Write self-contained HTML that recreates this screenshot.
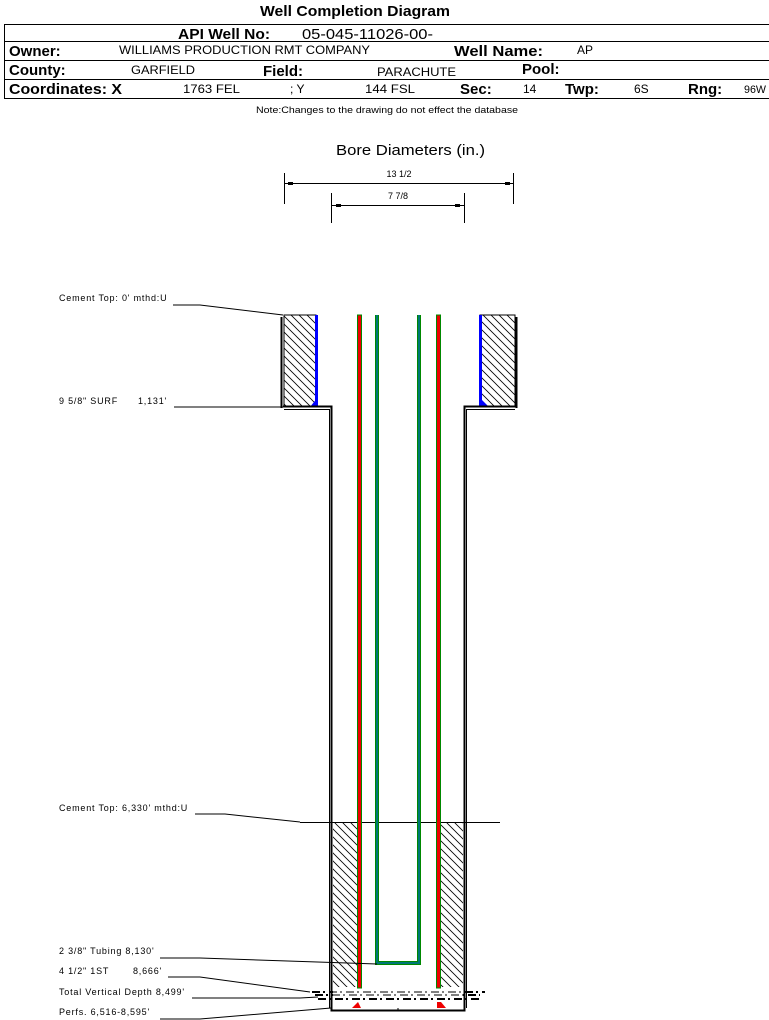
<!DOCTYPE html>
<html><head><meta charset="utf-8"><style>
html,body{margin:0;padding:0;background:#fff;}
svg{display:block;}
text{font-family:"Liberation Sans",sans-serif;}
</style></head><body>
<svg width="769" height="1020" viewBox="0 0 769 1020" xmlns="http://www.w3.org/2000/svg">
<defs>
<pattern id="h" width="8" height="8" patternUnits="userSpaceOnUse">
<path d="M-2,-2 L10,10 M-2,6 L2,10 M6,-2 L10,2" stroke="#000" stroke-width="0.8"/>
</pattern>
</defs>
<text x="355" y="16" font-size="15" font-weight="bold" text-anchor="middle" textLength="190" lengthAdjust="spacingAndGlyphs">Well Completion Diagram</text>
<rect x="4.5" y="24.5" width="765" height="74" fill="none" stroke="#000"/>
<line x1="4" y1="41.5" x2="769" y2="41.5" stroke="#000"/>
<line x1="4" y1="60.5" x2="769" y2="60.5" stroke="#000"/>
<line x1="4" y1="79.5" x2="769" y2="79.5" stroke="#000"/>
<g font-size="15">
<text x="178" y="39" font-weight="bold" textLength="92" lengthAdjust="spacingAndGlyphs">API Well No:</text>
<text x="302" y="39" textLength="131" lengthAdjust="spacingAndGlyphs">05-045-11026-00-</text>
<text x="9" y="56" font-weight="bold">Owner:</text>
<text x="454" y="56" font-weight="bold" textLength="89" lengthAdjust="spacingAndGlyphs">Well Name:</text>
<text x="9" y="75" font-weight="bold">County:</text>
<text x="263" y="76" font-weight="bold">Field:</text>
<text x="522" y="74" font-weight="bold">Pool:</text>
<text x="9" y="94" font-weight="bold" textLength="113" lengthAdjust="spacingAndGlyphs">Coordinates: X</text>
<text x="460" y="94" font-weight="bold">Sec:</text>
<text x="565" y="94" font-weight="bold">Twp:</text>
<text x="688" y="94" font-weight="bold">Rng:</text>
</g>
<g font-size="12">
<text x="119" y="54" textLength="251" lengthAdjust="spacingAndGlyphs">WILLIAMS PRODUCTION RMT COMPANY</text>
<text x="577" y="54">AP</text>
<text x="131" y="74" textLength="64" lengthAdjust="spacingAndGlyphs">GARFIELD</text>
<text x="377" y="76" textLength="79" lengthAdjust="spacingAndGlyphs">PARACHUTE</text>
<text x="183" y="93" textLength="57" lengthAdjust="spacingAndGlyphs">1763 FEL</text>
<text x="290" y="93">; Y</text>
<text x="365" y="93" textLength="50" lengthAdjust="spacingAndGlyphs">144 FSL</text>
<text x="523" y="93">14</text>
<text x="634" y="93">6S</text>
<text x="744" y="93" font-size="11" textLength="22" lengthAdjust="spacingAndGlyphs">96W</text>
</g>
<text x="256" y="113" font-size="9" textLength="262" lengthAdjust="spacingAndGlyphs">Note:Changes to the drawing do not effect the database</text>

<text x="336" y="155" font-size="15" textLength="149" lengthAdjust="spacingAndGlyphs">Bore Diameters (in.)</text>
<g stroke="#000" stroke-width="1">
<line x1="284.5" y1="173" x2="284.5" y2="204"/><line x1="513.5" y1="173" x2="513.5" y2="204"/>
<line x1="285" y1="183.5" x2="513" y2="183.5"/>
<line x1="331.5" y1="193" x2="331.5" y2="223"/><line x1="464.5" y1="193" x2="464.5" y2="223"/>
<line x1="332" y1="205.5" x2="464" y2="205.5"/>
</g>
<g fill="#000"><rect x="288" y="182" width="5" height="3"/><rect x="505" y="182" width="5" height="3"/><rect x="336" y="204" width="5" height="3"/><rect x="455" y="204" width="5" height="3"/></g>
<text x="399" y="177" font-size="9" text-anchor="middle">13 1/2</text>
<text x="398" y="199" font-size="9" text-anchor="middle">7 7/8</text>

<rect x="284" y="315" width="32" height="92" fill="url(#h)" stroke="#000"/>
<rect x="480" y="315" width="35" height="92" fill="url(#h)" stroke="#000"/>
<rect x="315" y="315" width="3" height="92" fill="#00f"/>
<rect x="479" y="315" width="3" height="92" fill="#00f"/>
<path d="M310,407 L318,397 L318,407Z" fill="#00f"/>
<path d="M479,397 L489,407 L479,407Z" fill="#00f"/>
<line x1="281.5" y1="317" x2="281.5" y2="408" stroke="#000" stroke-width="2"/>
<line x1="516.5" y1="317" x2="516.5" y2="408" stroke="#000" stroke-width="2"/>
<path d="M283,406.5 H331.5 V1010.5 H464.5 V406.5 H515" fill="none" stroke="#000" stroke-width="2"/>
<path d="M284,409.5 H329.5 V1008 M466.5,1008 V409.5 H515" fill="none" stroke="#000" stroke-width="1"/>
<rect x="333" y="822" width="25" height="165" fill="url(#h)"/>
<rect x="440" y="822" width="23" height="165" fill="url(#h)"/>
<line x1="300" y1="822.5" x2="500" y2="822.5" stroke="#000"/>
<rect x="357.5" y="315" width="4" height="673" fill="#e00" stroke="#080" stroke-width="1"/>
<rect x="436.5" y="315" width="4" height="673" fill="#e00" stroke="#080" stroke-width="1"/>
<path d="M377,315 V963 H419 V315" fill="none" stroke="#080" stroke-width="4"/>
<path d="M377,315 V963 H419 V315" fill="none" stroke="#077" stroke-width="2"/>
<g stroke="#000" stroke-width="2" stroke-dasharray="8,3,2,4">
<line x1="312" y1="992" x2="485" y2="992"/><line x1="315" y1="995" x2="480" y2="995"/><line x1="318" y1="999" x2="482" y2="999"/>
</g>
<rect x="333" y="990" width="130" height="8" fill="#fff" opacity="0.5"/>
<path d="M352,1008 L358,1002 L361,1008Z" fill="#e00"/>
<path d="M437,1002 L441,1002 L446,1008 L437,1008Z" fill="#e00"/>
<line x1="398" y1="1008" x2="398" y2="1011" stroke="#000"/>

<g font-size="9" letter-spacing="0.8">
<text x="59" y="301">Cement Top: 0' mthd:U</text>
<text x="59" y="404">9 5/8" SURF</text><text x="138" y="404">1,131'</text>
<text x="59" y="811">Cement Top: 6,330' mthd:U</text>
<text x="59" y="954">2 3/8" Tubing 8,130'</text>
<text x="59" y="974">4 1/2" 1ST</text><text x="133" y="974">8,666'</text>
<text x="59" y="995">Total Vertical Depth 8,499'</text>
<text x="59" y="1015">Perfs. 6,516-8,595'</text>
</g>
<g stroke="#000" stroke-width="1" fill="none">
<path d="M173,305 L200,305 L283,315"/>
<path d="M174,407 L283,407"/>
<path d="M195,814 L225,814 L300,822"/>
<path d="M160,958 L200,958 L377,964"/>
<path d="M168,977 L200,977 L310,992"/>
<path d="M192,998 L300,998 L318,997"/>
<path d="M160,1019 L200,1019 L331,1008"/>
</g>
</svg>
</body></html>
